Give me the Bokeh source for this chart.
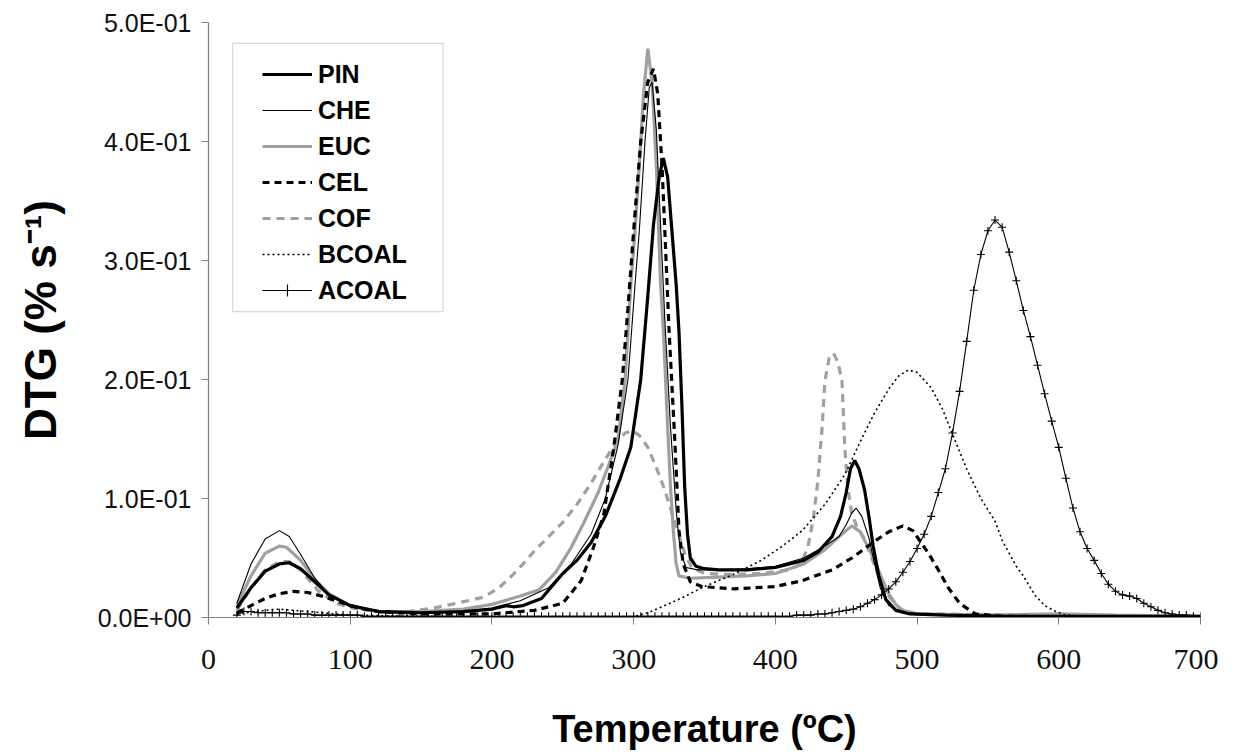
from bokeh.plotting import figure
from bokeh.models import FixedTicker, Legend, LegendItem, Range1d, BoxAnnotation
from bokeh.embed import file_html
from bokeh.resources import INLINE

# ---------------- data ----------------
PIN_T = [20, 30, 40, 50, 57, 65, 75, 85, 100, 120, 150, 180, 200, 210, 215, 222, 235,
         250, 260, 270, 280, 290, 298, 305, 310, 314, 318, 321, 324, 327, 330, 332, 334,
         336, 338, 340, 344, 350, 360, 380, 400, 420, 430, 440, 446, 450, 453, 456, 459,
         463, 466, 469, 473, 478, 485, 495, 520, 560, 700]
PIN_V = [0.008, 0.025, 0.039, 0.045, 0.046, 0.041, 0.030, 0.019, 0.010, 0.005, 0.004,
         0.005, 0.007, 0.010, 0.009, 0.010, 0.016, 0.037, 0.048, 0.063, 0.085, 0.115,
         0.143, 0.200, 0.270, 0.330, 0.370, 0.386, 0.370, 0.325, 0.280, 0.240, 0.180,
         0.110, 0.070, 0.050, 0.043, 0.041, 0.040, 0.040, 0.042, 0.048, 0.055, 0.068,
         0.085, 0.105, 0.125, 0.132, 0.125, 0.107, 0.085, 0.060, 0.035, 0.015, 0.006,
         0.003, 0.002, 0.001, 0.001]

CHE_T = [20, 30, 40, 50, 57, 65, 75, 85, 100, 120, 150, 180, 200, 220, 240, 256, 270,
         280, 289, 296, 301, 304, 308, 311, 313, 316, 319, 322, 326, 330, 333, 337, 345,
         360, 380, 400, 420, 435, 445, 450, 454, 457, 461, 466, 470, 474, 480, 490, 520, 700]
CHE_V = [0.012, 0.045, 0.066, 0.073, 0.068, 0.053, 0.033, 0.019, 0.009, 0.005, 0.004,
         0.005, 0.008, 0.014, 0.025, 0.045, 0.070, 0.100, 0.145, 0.200, 0.280, 0.325,
         0.400, 0.445, 0.450, 0.410, 0.330, 0.250, 0.160, 0.090, 0.055, 0.042, 0.040,
         0.040, 0.041, 0.043, 0.050, 0.060, 0.068, 0.078, 0.088, 0.092, 0.085, 0.067,
         0.045, 0.025, 0.010, 0.004, 0.002, 0.001]

EUC_T = [20, 30, 40, 50, 55, 65, 75, 85, 100, 120, 150, 180, 200, 220, 233, 245, 256,
         265, 275, 283, 289, 294, 298, 301, 304, 307, 310, 313, 316, 319, 321, 324, 326,
         328, 330, 332, 340, 360, 380, 400, 420, 435, 445, 454, 460, 465, 470, 475, 480,
         485, 490, 500, 550, 600, 640, 700]
EUC_V = [0.010, 0.035, 0.054, 0.060, 0.059, 0.048, 0.032, 0.020, 0.010, 0.005, 0.005,
         0.007, 0.011, 0.018, 0.023, 0.038, 0.059, 0.080, 0.105, 0.130, 0.150, 0.200,
         0.280, 0.325, 0.380, 0.440, 0.478, 0.450, 0.380, 0.280, 0.241, 0.160, 0.110,
         0.073, 0.045, 0.035, 0.033, 0.034, 0.035, 0.037, 0.045, 0.057, 0.068, 0.077,
         0.072, 0.060, 0.048, 0.033, 0.020, 0.011, 0.006, 0.003, 0.002, 0.003, 0.002, 0.001]

CEL_T = [20, 30, 40, 50, 60, 70, 80, 90, 100, 110, 120, 150, 200, 230, 250, 263, 272,
         279, 286, 292, 296, 300, 305, 310, 314, 317, 320, 322, 325, 329, 332, 335, 340,
         348, 371, 400, 419, 440, 454, 470, 480, 490, 497, 508, 515, 522, 530, 541, 560, 700]
CEL_V = [0.004, 0.010, 0.016, 0.020, 0.022, 0.021, 0.018, 0.014, 0.010, 0.007, 0.005,
         0.003, 0.003, 0.006, 0.012, 0.031, 0.060, 0.087, 0.143, 0.200, 0.260, 0.325,
         0.400, 0.450, 0.461, 0.440, 0.380, 0.325, 0.241, 0.150, 0.073, 0.045, 0.030,
         0.026, 0.024, 0.026, 0.031, 0.040, 0.050, 0.064, 0.072, 0.077, 0.073, 0.054,
         0.040, 0.025, 0.012, 0.003, 0.001, 0.000]

COF_T = [20, 30, 40, 50, 57, 65, 77, 90, 100, 120, 140, 159, 175, 194, 205, 214, 222,
         230, 240, 250, 260, 270, 280, 288, 294, 299, 304, 310, 316, 322, 327, 331, 336,
         341, 350, 370, 390, 410, 418, 423, 427, 430, 433, 435, 438, 441, 444, 447, 449,
         451, 454, 458, 463, 468, 473, 480, 488, 500, 600, 700]
COF_V = [0.006, 0.025, 0.040, 0.047, 0.047, 0.040, 0.023, 0.012, 0.008, 0.005, 0.005,
         0.008, 0.012, 0.017, 0.025, 0.035, 0.045, 0.056, 0.068, 0.080, 0.095, 0.113,
         0.133, 0.148, 0.155, 0.157, 0.153, 0.143, 0.126, 0.107, 0.088, 0.073, 0.054,
         0.042, 0.037, 0.036, 0.037, 0.040, 0.045, 0.059, 0.085, 0.115, 0.160, 0.199,
         0.218, 0.222, 0.215, 0.199, 0.143, 0.110, 0.087, 0.075, 0.066, 0.050, 0.035,
         0.018, 0.007, 0.003, 0.002, 0.001]

BCOAL_T = [20, 40, 50, 60, 80, 100, 150, 250, 298, 310, 320, 335, 348, 370, 390, 405,
           419, 435, 449, 460, 470, 480, 487, 494, 500, 510, 518, 526, 535, 545, 555, 560,
           570, 575, 583, 590, 598, 605, 620, 700]
BCOAL_V = [0.003, 0.006, 0.007, 0.006, 0.004, 0.002, 0.001, 0.000, 0.000, 0.004, 0.009,
           0.017, 0.025, 0.036, 0.048, 0.060, 0.073, 0.095, 0.120, 0.148, 0.172, 0.192,
           0.203, 0.208, 0.206, 0.193, 0.175, 0.151, 0.125, 0.100, 0.081, 0.065, 0.043,
           0.035, 0.019, 0.010, 0.005, 0.002, 0.001, 0.000]

ACOAL_T = list(range(20, 705, 5))
ACOAL_V = [0.002, 0.005, 0.005, 0.004, 0.004, 0.004, 0.004, 0.004, 0.003, 0.003,   # 20-65
           0.003, 0.002, 0.002, 0.002, 0.002, 0.002, 0.002, 0.002, 0.001, 0.001,   # 70-115
           0.001, 0.001, 0.001, 0.001, 0.001, 0.001, 0.001, 0.001, 0.001, 0.001,   # 120-165
           0.001, 0.001, 0.001, 0.001, 0.001, 0.001, 0.001, 0.001, 0.001, 0.001,   # 170-215
           0.001, 0.001, 0.001, 0.001, 0.001, 0.001, 0.001, 0.001, 0.001, 0.001,   # 220-265
           0.001, 0.001, 0.001, 0.001, 0.001, 0.001, 0.001, 0.001, 0.001, 0.001,   # 270-315
           0.001, 0.001, 0.001, 0.001, 0.001, 0.001, 0.001, 0.001, 0.001, 0.001,   # 320-365
           0.001, 0.001, 0.001, 0.001, 0.001, 0.001, 0.001, 0.001, 0.001, 0.002,   # 370-415
           0.002, 0.002, 0.003, 0.003, 0.004, 0.005, 0.006, 0.007, 0.009, 0.012,   # 420-465
           0.015, 0.019, 0.024, 0.030, 0.038, 0.047, 0.058, 0.070, 0.085, 0.105,   # 470-515
           0.125, 0.155, 0.190, 0.232, 0.275, 0.305, 0.325, 0.334, 0.328, 0.307,   # 520-565
           0.283, 0.258, 0.236, 0.212, 0.188, 0.165, 0.143, 0.117, 0.092, 0.072,   # 570-615
           0.058, 0.048, 0.037, 0.028, 0.022, 0.019, 0.018, 0.016, 0.012, 0.009,   # 620-665
           0.006, 0.004, 0.003, 0.002, 0.002, 0.001, 0.001]                        # 670-700

X_TICKS = [0, 100, 200, 300, 400, 500, 600, 700]
Y_TICKS = [0.0, 0.1, 0.2, 0.3, 0.4, 0.5]
Y_LABELS = ["0.0E+00", "1.0E-01", "2.0E-01", "3.0E-01", "4.0E-01", "5.0E-01"]
SERIES_NAMES = ["PIN", "CHE", "EUC", "CEL", "COF", "BCOAL", "ACOAL"]

# ---------------- figure ----------------
FONT = "Liberation Sans"
GREY = "#a0a0a0"

p = figure(frame_width=992, frame_height=595,
           x_range=Range1d(0, 700), y_range=Range1d(0, 0.5),
           output_backend="svg", toolbar_location=None,
           min_border_left=208, min_border_right=18,
           min_border_top=22, min_border_bottom=136)
p.outline_line_color = None
p.xgrid.visible = False
p.ygrid.visible = False
p.background_fill_color = "white"
p.border_fill_color = "white"

for ax in (p.xaxis[0], p.yaxis[0]):
    ax.axis_line_color = "#808080"
    ax.axis_line_width = 1.2
    ax.major_tick_line_color = "#808080"
    ax.major_tick_out = 7
    ax.major_tick_in = 0
    ax.minor_tick_line_color = None
    ax.major_label_text_color = "#111111"
    ax.major_label_text_font = FONT
    ax.axis_label_text_font = FONT
    ax.axis_label_text_font_style = "bold"
    ax.axis_label_text_color = "#000000"

p.xaxis.ticker = FixedTicker(ticks=X_TICKS)
p.xaxis.major_label_text_font_size = "30px"
p.xaxis.major_label_text_font = "Liberation Sans Narrow"
p.xaxis.major_label_standoff = 25
p.xaxis.axis_label = "Temperature (ºC)"
p.xaxis.axis_label_text_font_size = "38px"
p.xaxis.axis_label_standoff = 36

p.yaxis.ticker = FixedTicker(ticks=Y_TICKS)
p.yaxis.major_label_overrides = {t: s for t, s in zip(Y_TICKS, Y_LABELS)}
p.yaxis.major_label_text_font_size = "25px"
p.yaxis.major_label_standoff = 10
p.yaxis.axis_label = "DTG (% s⁻¹)"
p.yaxis.axis_label_text_font_size = "44px"
p.yaxis.axis_label_standoff = 30

# ---------------- series ----------------
r_cof = p.line(COF_T, COF_V, line_color=GREY, line_width=3.2, line_dash="8 6")
r_euc = p.line(EUC_T, EUC_V, line_color=GREY, line_width=3.2)
r_bcoal = p.line(BCOAL_T, BCOAL_V, line_color="black", line_width=1.6, line_dash="2 3")
r_acoal = p.line(ACOAL_T, ACOAL_V, line_color="black", line_width=1.1)
r_acoal_m = p.scatter(ACOAL_T, ACOAL_V, marker="cross", size=8, line_color="black",
                      line_width=1.1)
r_cel = p.line(CEL_T, CEL_V, line_color="black", line_width=3.2, line_dash="7 5")
r_che = p.line(CHE_T, CHE_V, line_color="black", line_width=1.1)
r_pin = p.line(PIN_T, PIN_V, line_color="black", line_width=3.2)

# legend frame (drawn separately so the glyph inset can match the original)
legend_box = BoxAnnotation(left=17, right=165.5, top=0.4824, bottom=0.2571,
                           fill_color="white", fill_alpha=1.0,
                           line_color="#808080", line_width=1.2)
p.add_layout(legend_box)

renderers = [[r_pin], [r_che], [r_euc], [r_cel], [r_cof], [r_bcoal], [r_acoal, r_acoal_m]]
legend = Legend(items=[LegendItem(label=n, renderers=r) for n, r in zip(SERIES_NAMES, renderers)],
                location=(54, 312))
legend.label_text_font = FONT
legend.label_text_font_style = "bold"
legend.label_text_font_size = "25px"
legend.label_text_color = "black"
legend.glyph_width = 50
legend.glyph_height = 30
legend.label_height = 30
legend.label_standoff = 6
legend.spacing = 6
legend.padding = 0
legend.margin = 0
legend.border_line_color = None
legend.background_fill_alpha = 0.0
p.add_layout(legend, "center")

open("out.html", "w").write(file_html(p, INLINE))
